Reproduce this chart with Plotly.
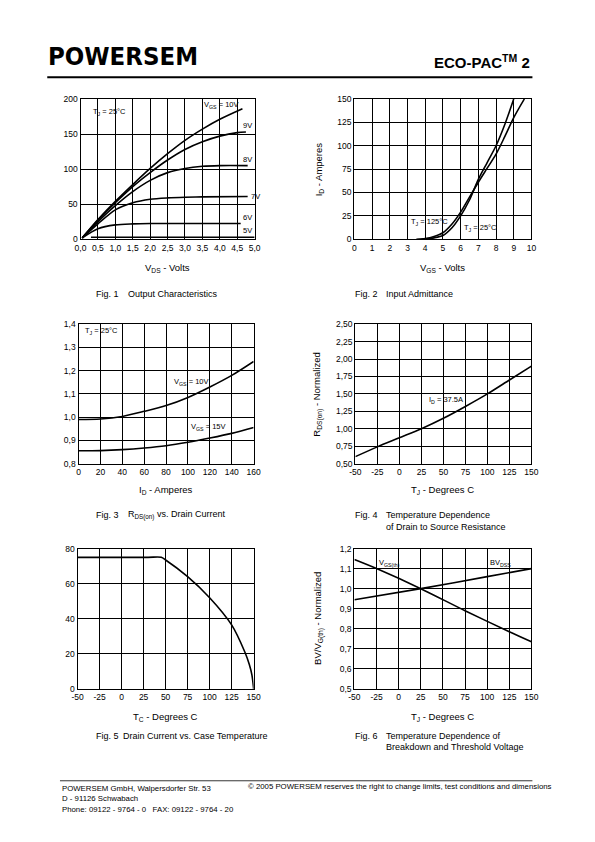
import plotly.graph_objects as go

W, H = 595, 842
OFF = 8  # default page body margin of the browser
def px(x): return (x - OFF) / W
def py(y): return 1 - (y - OFF) / H

# ---------------- data ----------------
# Fig 1 Output characteristics (V_DS [V], I_D [A])
f1_vds_10 = [0.05, 0.5, 1.0, 1.5, 2.0, 2.5, 3.0, 3.5, 4.0, 4.65]
f1_id_10 = [2, 28, 54, 78, 101, 122, 141, 157, 171, 186]
f1_vds_9 = [0.05, 0.5, 1.0, 1.5, 2.0, 2.5, 3.0, 3.5, 4.0, 4.5, 4.75]
f1_id_9 = [2, 27, 52, 75, 95, 113, 128, 139, 147, 152, 153]
f1_vds_8 = [0.05, 0.5, 1.0, 1.5, 2.0, 2.5, 3.0, 3.5, 4.0, 4.8]
f1_id_8 = [2, 25, 48, 68, 84, 95, 101, 104, 105, 105]
f1_vds_7 = [0.05, 0.5, 1.0, 1.5, 2.0, 2.5, 3.0, 3.5, 4.8]
f1_id_7 = [2, 22, 42, 52, 57, 59, 60, 60.5, 61]
f1_vds_6 = [0.05, 0.5, 1.0, 1.5, 2.0, 4.6]
f1_id_6 = [2, 15, 20.5, 22, 22.5, 22.5]
f1_vds_5 = [0.3, 1.0, 5.0]
f1_id_5 = [3, 3, 3]

# Fig 2 Input admittance (V_GS [V], I_D [A])
f2_vgs_125 = [3.5, 4.0, 4.5, 5.0, 5.5, 6.0, 6.5, 7.0, 7.5, 8.0, 8.5, 9.0, 9.6]
f2_id_125 = [0, 0.8, 3, 7, 16, 29, 45, 61, 76, 91, 110, 130, 150]
f2_vgs_25 = [3.8, 4.0, 4.5, 5.0, 5.5, 6.0, 6.5, 7.0, 7.5, 8.0, 8.5, 9.0]
f2_id_25 = [0, 0.3, 1.5, 4, 12, 25, 42, 64, 82, 100, 123, 150]

# Fig 3 R_DS(on) vs drain current
f3_id = [0, 20, 40, 60, 80, 100, 120, 140, 160]
f3_r_10 = [0.99, 0.992, 1.003, 1.025, 1.05, 1.085, 1.13, 1.18, 1.24]
f3_r_15 = [0.855, 0.856, 0.86, 0.867, 0.877, 0.892, 0.91, 0.93, 0.955]

# Fig 4 R_DS(on) normalized vs T_J
f4_tj = [-50, -25, 0, 25, 50, 75, 100, 125, 150]
f4_r = [0.6, 0.74, 0.87, 1.0, 1.15, 1.32, 1.5, 1.7, 1.9]

# Fig 5 Drain current vs case temperature
f5_tc = [-50, 30, 45, 50, 75, 100, 125, 140, 145, 148, 150]
f5_id = [75, 75, 75, 73.5, 64, 52, 36.5, 21, 14, 8, 0]

# Fig 6 normalized BV / V_GS(th) vs T_J
f6_tj_vth = [-50, -25, 25, 75, 125, 150]
f6_vth = [1.145, 1.1, 1.0, 0.89, 0.785, 0.735]
f6_tj_bv = [-50, 25, 100, 150]
f6_bv = [0.945, 1.0, 1.06, 1.1]

# tick labels
f1_xt = [0, 0.5, 1, 1.5, 2, 2.5, 3, 3.5, 4, 4.5, 5]
f1_xl = ["0,0", "0,5", "1,0", "1,5", "2,0", "2,5", "3,0", "3,5", "4,0", "4,5", "5,0"]
f1_yt = [0, 50, 100, 150, 200]
f2_xt = list(range(0, 11))
f2_yt = [0, 25, 50, 75, 100, 125, 150]
f3_xt = [0, 20, 40, 60, 80, 100, 120, 140, 160]
f3_yt = [0.8, 0.9, 1.0, 1.1, 1.2, 1.3, 1.4]
f3_yl = ["0,8", "0,9", "1,0", "1,1", "1,2", "1,3", "1,4"]
t_xt = [-50, -25, 0, 25, 50, 75, 100, 125, 150]
f4_yt = [0.5, 0.75, 1.0, 1.25, 1.5, 1.75, 2.0, 2.25, 2.5]
f4_yl = ["0,50", "0,75", "1,00", "1,25", "1,50", "1,75", "2,00", "2,25", "2,50"]
f5_yt = [0, 20, 40, 60, 80]
f6_yt = [0.5, 0.6, 0.7, 0.8, 0.9, 1.0, 1.1, 1.2]
f6_yl = ["0,5", "0,6", "0,7", "0,8", "0,9", "1,0", "1,1", "1,2"]

FONT = "Liberation Sans, Arial, sans-serif"

fig = go.Figure()

def line(x, y, n, width=1.6):
    ax = "" if n == 1 else str(n)
    fig.add_trace(go.Scatter(x=x, y=y, xaxis="x" + ax, yaxis="y" + ax, mode="lines",
                             line=dict(color="black", width=width, shape="spline", smoothing=0.8),
                             showlegend=False, hoverinfo="skip"))

line(f1_vds_10, f1_id_10, 1)
line(f1_vds_9, f1_id_9, 1)
line(f1_vds_8, f1_id_8, 1)
line(f1_vds_7, f1_id_7, 1)
line(f1_vds_6, f1_id_6, 1)
line(f1_vds_5, f1_id_5, 1)
line(f2_vgs_125, f2_id_125, 2)
line(f2_vgs_25, f2_id_25, 2)
line(f3_id, f3_r_10, 3)
line(f3_id, f3_r_15, 3)
line(f4_tj, f4_r, 4)
line(f5_tc, f5_id, 5)
line(f6_tj_vth, f6_vth, 6)
line(f6_tj_bv, f6_bv, 6)

panels = {
    1: dict(x=(76, 254), y=(95, 237), xr=[0, 5], yr=[0, 200], xt=f1_xt, xl=f1_xl, yt=f1_yt, yl=None),
    2: dict(x=(356, 537), y=(95, 237), xr=[0, 10], yr=[0, 150], xt=f2_xt, xl=None, yt=f2_yt, yl=None),
    3: dict(x=(74, 253), y=(323, 464), xr=[0, 160], yr=[0.8, 1.4], xt=f3_xt, xl=None, yt=f3_yt, yl=f3_yl),
    4: dict(x=(357, 537), y=(323, 464), xr=[-50, 150], yr=[0.5, 2.5], xt=t_xt, xl=None, yt=f4_yt, yl=f4_yl),
    5: dict(x=(73, 253), y=(550, 692), xr=[-50, 150], yr=[0, 80], xt=t_xt, xl=None, yt=f5_yt, yl=None),
    6: dict(x=(356, 537), y=(550, 692), xr=[-50, 150], yr=[0.5, 1.2], xt=t_xt, xl=None, yt=f6_yt, yl=f6_yl),
}

layout_axes = {}
for n, p in panels.items():
    s = "" if n == 1 else str(n)
    common = dict(showgrid=True, gridcolor="black", gridwidth=1.1, showline=True, linecolor="black",
                  linewidth=1.4, mirror=True, zeroline=False, ticks="", fixedrange=True,
                  tickfont=dict(size=8.5, family=FONT, color="black"))
    xa = dict(domain=[px(p["x"][0]), px(p["x"][1])], range=p["xr"], anchor="y" + s,
              tickvals=p["xt"], ticktext=p["xl"] if p["xl"] else [str(v) for v in p["xt"]], **common)
    ya = dict(domain=[py(p["y"][1]), py(p["y"][0])], range=p["yr"], anchor="x" + s,
              tickvals=p["yt"], ticktext=p["yl"] if p["yl"] else [str(v) for v in p["yt"]], **common)
    layout_axes["xaxis" + s] = xa
    layout_axes["yaxis" + s] = ya

fig.update_layout(width=W, height=H, margin=dict(l=0, r=0, t=0, b=0),
                  paper_bgcolor="white", plot_bgcolor="white", showlegend=False,
                  font=dict(family=FONT, color="black"), **layout_axes)

ann = []
def A(text, x, y, size=8.5, xanchor="left", yanchor="middle", ref=None, angle=0, family=FONT):
    if ref is None:
        xr, yr, xx, yy = "paper", "paper", px(x), py(y)
    else:
        s = "" if ref == 1 else str(ref)
        xr, yr, xx, yy = "x" + s, "y" + s, x, y
    ann.append(dict(text=text, x=xx, y=yy, xref=xr, yref=yr, showarrow=False, xanchor=xanchor,
                    yanchor=yanchor, textangle=angle,
                    font=dict(size=size, family=family, color="black")))

NB = "\u00a0"
# in-plot labels
A("T<sub>J</sub> = 25°C", 0.3, 182, 7.5, ref=1)
A("V<sub>GS</sub> = 10V", 3.5, 192, 7.5, ref=1)
A("9V", 4.62, 162, 7.5, ref=1)
A("8V", 4.6, 114, 7.5, ref=1)
A("7V", 4.85, 61, 7.5, ref=1)
A("6V", 4.6, 31, 7.5, ref=1)
A("5V", 4.6, 12, 7.5, ref=1)
A("T<sub>J</sub> = 125°C", 3.1, 18, 7.5, ref=2)
A("T<sub>J</sub> = 25°C", 6.1, 12.5, 7.5, ref=2)
A("T<sub>J</sub> = 25°C", 4, 1.37, 7.5, ref=3)
A("V<sub>GS</sub> = 10V", 85, 1.153, 7.5, ref=3)
A("V<sub>GS</sub> = 15V", 101, 0.958, 7.5, ref=3)
A("I<sub>D</sub> = 37.5A", 31, 1.41, 7.5, ref=4)
A("V<sub>GS(th)</sub>", -25, 1.13, 7.5, ref=6)
A("BV<sub>DSS</sub>", 101, 1.13, 7.5, ref=6)

# axis titles
A("V<sub>DS</sub> - Volts", 165, 266, 9.5, xanchor="center")
A("V<sub>GS</sub> - Volts", 446, 266, 9.5, xanchor="center")
A("I<sub>D</sub> - Amperes", 320, 166, 9.5, xanchor="center", angle=-90)
A("I<sub>D</sub> - Amperes", 163, 491, 9.5, xanchor="center")
A("T<sub>J</sub> - Degrees C", 446, 491, 9.5, xanchor="center")
A("R<sub>DS(on)</sub> - Normalized", 318, 394, 9.5, xanchor="center", angle=-90)
A("T<sub>C</sub> - Degrees C", 163, 720, 9.5, xanchor="center")
A("T<sub>J</sub> - Degrees C", 446, 720, 9.5, xanchor="center")
A("BV/V<sub>G(th)</sub> - Normalized", 320, 621, 9.5, xanchor="center", angle=-90)

# captions
CS = 9
A("Fig. 1", 90, 292, CS); A("Output Characteristics", 122, 292, CS)
A("Fig. 2", 355, 292, CS); A("Input Admittance", 386, 292, CS)
A("Fig. 3", 90, 516, CS); A("R<sub>DS(on)</sub> vs. Drain Current", 122, 516, CS)
A("Fig. 4", 355, 516, CS); A("Temperature Dependence", 386, 516, CS)
A("of Drain to Source Resistance", 386, 528, CS)
A("Fig. 5", 90, 740, CS); A("Drain Current vs. Case Temperature", 117, 740, CS)
A("Fig. 6", 355, 740, CS); A("Temperature Dependence of", 386, 740, CS)
A("Breakdown and Threshold Voltage", 386, 751, CS)

# header
A("<b>POWERSEM</b>", 41, 52, 25.5, family="DejaVu Sans Condensed, Liberation Sans, sans-serif")
A("<b>ECO-PAC<sup>TM</sup> 2</b>", 538, 57, 15, xanchor="right")

# footer
A("POWERSEM GmbH, Walpersdorfer Str. 53", 55, 793, 7.8)
A("D - 91126 Schwabach", 55, 803, 7.8)
A("Phone: 09122 - 9764 - 0" + NB * 3 + "FAX: 09122 - 9764 - 20", 55, 814, 7.8)
A("© 2005 POWERSEM reserves the right to change limits, test conditions and dimensions", 245, 791, 7.8)

fig.update_layout(annotations=ann)

fig.update_layout(shapes=[
    dict(type="line", xref="paper", yref="paper", x0=px(42), x1=px(538), y0=py(73), y1=py(73),
         line=dict(color="black", width=2)),
    dict(type="line", xref="paper", yref="paper", x0=px(55), x1=px(538), y0=py(785), y1=py(785),
         line=dict(color="black", width=0.8)),
])

fig.write_html("out.html")
